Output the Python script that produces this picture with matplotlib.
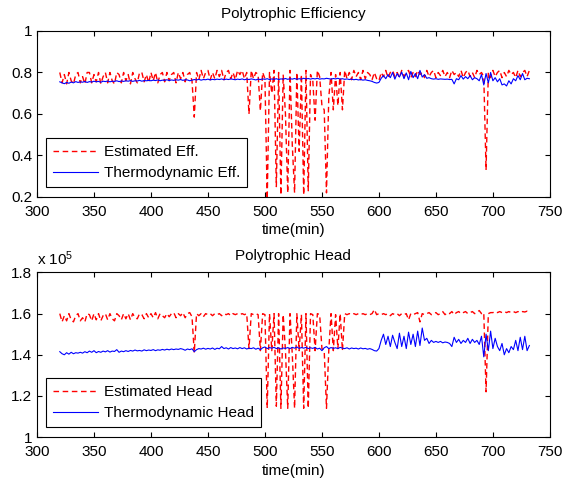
import numpy as np
import matplotlib
matplotlib.use("Agg")
import matplotlib.pyplot as plt
from matplotlib.ticker import FormatStrFormatter

# sampled every 2 min, 320..732
eff_est = [
    0.80, 0.75, 0.79, 0.745, 0.80, 0.76, 0.745, 0.79, 0.80, 0.75,
    0.78, 0.745, 0.80, 0.80, 0.75, 0.79, 0.755, 0.80, 0.745, 0.78,
    0.80, 0.75, 0.80, 0.76, 0.745, 0.80, 0.79, 0.75, 0.80, 0.76,
    0.79, 0.745, 0.80, 0.77, 0.75, 0.80, 0.80, 0.755, 0.79, 0.75,
    0.80, 0.76, 0.80, 0.75, 0.79, 0.80, 0.755, 0.80, 0.76, 0.79,
    0.80, 0.75, 0.80, 0.77, 0.80, 0.755, 0.79, 0.80, 0.76, 0.585,
    0.80, 0.765, 0.81, 0.77, 0.80, 0.81, 0.765, 0.80, 0.77, 0.81,
    0.78, 0.81, 0.765, 0.80, 0.81, 0.77, 0.80, 0.765, 0.81, 0.79,
    0.81, 0.77, 0.80, 0.60, 0.81, 0.77, 0.80, 0.79, 0.615, 0.80,
    0.77, 0.19, 0.80, 0.70, 0.81, 0.25, 0.80, 0.21, 0.79, 0.60,
    0.22, 0.81, 0.45, 0.22, 0.80, 0.42, 0.79, 0.21, 0.81, 0.23,
    0.79, 0.76, 0.57, 0.81, 0.78, 0.64, 0.62, 0.22, 0.68, 0.80,
    0.62, 0.79, 0.64, 0.80, 0.62, 0.81, 0.77, 0.80, 0.765, 0.81,
    0.78, 0.80, 0.765, 0.81, 0.77, 0.80, 0.79, 0.765, 0.80, 0.77,
    0.76, 0.80, 0.78, 0.81, 0.775, 0.80, 0.81, 0.78, 0.80, 0.775,
    0.81, 0.78, 0.80, 0.81, 0.775, 0.80, 0.78, 0.81, 0.79, 0.80,
    0.775, 0.81, 0.78, 0.80, 0.81, 0.775, 0.80, 0.785, 0.81, 0.78,
    0.80, 0.775, 0.81, 0.79, 0.80, 0.78, 0.81, 0.775, 0.80, 0.81,
    0.78, 0.80, 0.775, 0.81, 0.79, 0.80, 0.78, 0.33, 0.80, 0.775,
    0.81, 0.78, 0.80, 0.81, 0.775, 0.80, 0.78, 0.81, 0.79, 0.80,
    0.775, 0.81, 0.78, 0.80, 0.81, 0.78, 0.81,
]

eff_thermo = [
    0.755, 0.750, 0.746, 0.752, 0.748, 0.754, 0.750, 0.756, 0.752, 0.755,
    0.753, 0.757, 0.752, 0.756, 0.754, 0.758, 0.755, 0.757, 0.753, 0.758,
    0.756, 0.759, 0.755, 0.758, 0.757, 0.760, 0.756, 0.759, 0.757, 0.760,
    0.758, 0.761, 0.757, 0.760, 0.759, 0.762, 0.758, 0.761, 0.760, 0.762,
    0.760, 0.763, 0.761, 0.764, 0.760, 0.763, 0.762, 0.765, 0.761, 0.764,
    0.762, 0.765, 0.763, 0.766, 0.762, 0.765, 0.764, 0.760, 0.763, 0.766,
    0.764, 0.767, 0.763, 0.766, 0.765, 0.768, 0.764, 0.767, 0.765, 0.768,
    0.766, 0.769, 0.765, 0.768, 0.766, 0.769, 0.767, 0.765, 0.768, 0.766,
    0.769, 0.765, 0.768, 0.766, 0.769, 0.767, 0.764, 0.768, 0.766, 0.769,
    0.767, 0.770, 0.766, 0.769, 0.767, 0.770, 0.766, 0.769, 0.768, 0.771,
    0.767, 0.770, 0.768, 0.771, 0.767, 0.770, 0.768, 0.772, 0.769, 0.771,
    0.768, 0.771, 0.769, 0.772, 0.768, 0.770, 0.769, 0.772, 0.770, 0.768,
    0.771, 0.769, 0.772, 0.768, 0.770, 0.767, 0.769, 0.766, 0.768, 0.765,
    0.767, 0.764, 0.766, 0.763, 0.765, 0.762, 0.760, 0.757, 0.752, 0.749,
    0.752, 0.772, 0.785, 0.770, 0.790, 0.775, 0.800, 0.768, 0.795, 0.778,
    0.802, 0.770, 0.798, 0.765, 0.805, 0.775, 0.795, 0.770, 0.810, 0.778,
    0.790, 0.772, 0.775, 0.770, 0.768, 0.770, 0.767, 0.769, 0.768, 0.767,
    0.768, 0.766, 0.767, 0.745, 0.770, 0.765, 0.785, 0.768, 0.780, 0.770,
    0.785, 0.765, 0.775, 0.770, 0.760, 0.790, 0.740, 0.795, 0.750, 0.800,
    0.760, 0.775, 0.755, 0.770, 0.740, 0.745, 0.735, 0.760, 0.745, 0.770,
    0.760, 0.785, 0.765, 0.795, 0.765, 0.772, 0.770,
]

# head values in units of 1e5
head_est = [
    1.60, 1.56, 1.59, 1.565, 1.60, 1.57, 1.56, 1.59, 1.60, 1.565,
    1.58, 1.56, 1.60, 1.595, 1.565, 1.60, 1.57, 1.60, 1.565, 1.59,
    1.60, 1.57, 1.60, 1.575, 1.565, 1.60, 1.59, 1.57, 1.60, 1.575,
    1.60, 1.57, 1.60, 1.58, 1.575, 1.60, 1.595, 1.575, 1.60, 1.58,
    1.60, 1.58, 1.605, 1.575, 1.60, 1.59, 1.58, 1.60, 1.585, 1.60,
    1.605, 1.58, 1.60, 1.59, 1.605, 1.58, 1.60, 1.605, 1.585, 1.41,
    1.60, 1.59, 1.60, 1.585, 1.60, 1.595, 1.60, 1.59, 1.60, 1.595,
    1.60, 1.59, 1.60, 1.595, 1.60, 1.59, 1.60, 1.595, 1.60, 1.595,
    1.60, 1.595, 1.60, 1.43, 1.60, 1.595, 1.60, 1.595, 1.42, 1.60,
    1.595, 1.14, 1.60, 1.42, 1.60, 1.15, 1.60, 1.14, 1.595, 1.42,
    1.14, 1.60, 1.40, 1.14, 1.60, 1.42, 1.595, 1.14, 1.60, 1.14,
    1.60, 1.595, 1.42, 1.60, 1.595, 1.43, 1.42, 1.14, 1.42, 1.60,
    1.42, 1.595, 1.43, 1.60, 1.42, 1.60, 1.595, 1.60, 1.595, 1.60,
    1.595, 1.60, 1.595, 1.60, 1.595, 1.60, 1.595, 1.60, 1.62, 1.595,
    1.60, 1.595, 1.60, 1.595, 1.60, 1.59, 1.60, 1.595, 1.60, 1.59,
    1.60, 1.595, 1.60, 1.57, 1.60, 1.595, 1.60, 1.605, 1.56, 1.60,
    1.595, 1.60, 1.605, 1.595, 1.60, 1.605, 1.595, 1.60, 1.61, 1.595,
    1.605, 1.60, 1.61, 1.595, 1.605, 1.61, 1.60, 1.605, 1.61, 1.60,
    1.605, 1.61, 1.60, 1.605, 1.615, 1.60, 1.605, 1.22, 1.60, 1.605,
    1.605, 1.61, 1.605, 1.61, 1.605, 1.61, 1.605, 1.61, 1.605, 1.61,
    1.605, 1.61, 1.605, 1.61, 1.608, 1.612, 1.61,
]

head_thermo = [
    1.415, 1.405, 1.400, 1.410, 1.403, 1.412, 1.405, 1.410, 1.408, 1.412,
    1.408, 1.415, 1.410, 1.418, 1.412, 1.420, 1.410, 1.416, 1.412, 1.418,
    1.414, 1.420, 1.413, 1.418, 1.416, 1.425, 1.412, 1.418, 1.415, 1.420,
    1.416, 1.421, 1.418, 1.423, 1.419, 1.421, 1.418, 1.424, 1.420, 1.423,
    1.421, 1.425, 1.420, 1.424, 1.422, 1.426, 1.423, 1.427, 1.424, 1.428,
    1.425, 1.428, 1.426, 1.430, 1.427, 1.422, 1.428, 1.425, 1.429, 1.415,
    1.425, 1.430, 1.428, 1.432, 1.427, 1.431, 1.428, 1.433, 1.426, 1.432,
    1.429, 1.440, 1.430, 1.434, 1.428, 1.435, 1.430, 1.433, 1.429, 1.435,
    1.430, 1.434, 1.428, 1.432, 1.430, 1.434, 1.427, 1.432, 1.425, 1.434,
    1.438, 1.430, 1.435, 1.432, 1.436, 1.430, 1.434, 1.428, 1.433, 1.431,
    1.435, 1.430, 1.436, 1.432, 1.438, 1.431, 1.435, 1.432, 1.436, 1.430,
    1.434, 1.431, 1.436, 1.428, 1.432, 1.420, 1.434, 1.440, 1.430, 1.435,
    1.431, 1.434, 1.430, 1.436, 1.432, 1.430, 1.434, 1.428, 1.433, 1.430,
    1.432, 1.428, 1.433, 1.429, 1.431, 1.427, 1.430, 1.426, 1.420, 1.418,
    1.430, 1.470, 1.500, 1.450, 1.490, 1.440, 1.495, 1.460, 1.430, 1.505,
    1.440, 1.490, 1.430, 1.510, 1.450, 1.500, 1.440, 1.515, 1.445, 1.530,
    1.470, 1.480, 1.455, 1.470, 1.460, 1.465, 1.460, 1.465, 1.458, 1.462,
    1.460, 1.455, 1.440, 1.485, 1.460, 1.475, 1.455, 1.470, 1.460, 1.480,
    1.455, 1.475, 1.460, 1.470, 1.450, 1.490, 1.390, 1.500, 1.420, 1.515,
    1.430, 1.480, 1.440, 1.420, 1.455, 1.400, 1.430, 1.410, 1.440, 1.425,
    1.470, 1.420, 1.485, 1.425, 1.490, 1.420, 1.445,
]

t_start, t_end = 320, 732

plt.rcParams['font.family'] = ['Liberation Sans', 'DejaVu Sans']
plt.rcParams['mathtext.fontset'] = 'custom'
plt.rcParams['mathtext.rm'] = 'Liberation Sans'
plt.rcParams['mathtext.it'] = 'Liberation Sans'


def time_axis(series):
    return np.linspace(t_start, t_end, len(series))


def style_axes(ax, ylim, yticks):
    ax.set_xlim(300, 750)
    ax.set_ylim(*ylim)
    ax.set_xticks(range(300, 751, 50))
    ax.set_yticks(yticks)
    ax.yaxis.set_major_formatter(FormatStrFormatter('%g'))
    ax.tick_params(direction='in', length=3.6, width=0.8, labelsize=11,
                   top=True, right=True)
    ax.tick_params(axis='x', pad=6)
    ax.tick_params(axis='y', pad=3.5)
    for s in ax.spines.values():
        s.set_linewidth(0.8)
    ax.set_xlabel('time(min)', fontsize=11, labelpad=3)


def add_legend(ax, labels):
    ax.legend(labels, loc='lower left', bbox_to_anchor=(0.017, 0.061),
              borderaxespad=0, fontsize=11, fancybox=False, framealpha=1,
              edgecolor='black', handlelength=3.0, handletextpad=0.35,
              labelspacing=0.45, borderpad=0.45)
    ax.get_legend().get_frame().set_linewidth(0.8)


fig = plt.figure(figsize=(5.63, 4.84), dpi=100)
dash = (0, (4.0, 2.6))

ax1 = fig.add_axes([0.0657, 0.593, 0.911, 0.343])
ax1.plot(time_axis(eff_est), eff_est, color='#ff0000', lw=1.0, linestyle=dash)
ax1.plot(time_axis(eff_thermo), eff_thermo, color='#0000ff', lw=0.8)
style_axes(ax1, (0.2, 1.0), [0.2, 0.4, 0.6, 0.8, 1.0])
ax1.set_title('Polytrophic Efficiency', fontsize=11, pad=9)
add_legend(ax1, ['Estimated Eff.', 'Thermodynamic Eff.'])

ax2 = fig.add_axes([0.0657, 0.097, 0.911, 0.340])
ax2.plot(time_axis(head_est), head_est, color='#ff0000', lw=1.0, linestyle=dash)
ax2.plot(time_axis(head_thermo), head_thermo, color='#0000ff', lw=0.8)
style_axes(ax2, (1.0, 1.8), [1.0, 1.2, 1.4, 1.6, 1.8])
ax2.set_title('Polytrophic Head', fontsize=11, pad=9)
ax2.text(0.0, 1.025, r'x 10$^5$', transform=ax2.transAxes, fontsize=11,
         ha='left', va='bottom')
add_legend(ax2, ['Estimated Head', 'Thermodynamic Head'])

fig.savefig('out.png', dpi=100)
